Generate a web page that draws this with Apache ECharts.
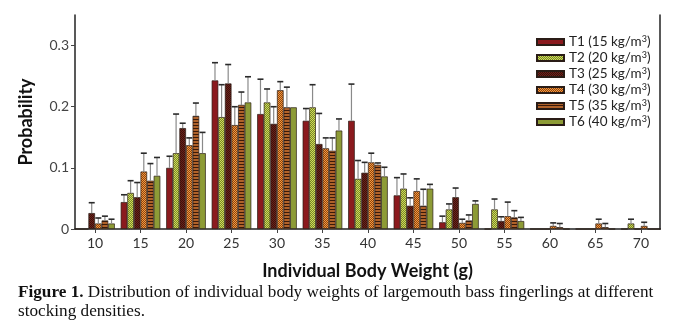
<!DOCTYPE html>
<html><head><meta charset="utf-8">
<script src="https://cdn.jsdelivr.net/npm/echarts@6/dist/echarts.min.js"></script>
<style>html,body{margin:0;padding:0;background:#fff}#c{width:675px;height:330px}</style>
</head><body><div id="c"></div>
<script>
// ---- data ----
const categories = [10, 15, 20, 25, 30, 35, 40, 45, 50, 55, 60, 65, 70];
const seriesNames = ['T1', 'T2', 'T3', 'T4', 'T5', 'T6'];
const densities = ['15', '20', '25', '30', '35', '40'];
const T1 = [0, 0.044, 0.100, 0.243, 0.188, 0.177, 0.177, 0.055, 0.011, 0, 0, 0, 0];
const T2 = [0, 0.059, 0.124, 0.183, 0.207, 0.199, 0.082, 0.066, 0.032, 0.032, 0, 0, 0.009];
const T3 = [0.026, 0.052, 0.165, 0.238, 0.172, 0.139, 0.092, 0.038, 0.052, 0.013, 0, 0, 0];
const T4 = [0.009, 0.094, 0.137, 0.170, 0.227, 0.132, 0.109, 0.062, 0.010, 0.021, 0.005, 0.009, 0.005];
const T5 = [0.014, 0.079, 0.185, 0.203, 0.199, 0.128, 0.105, 0.038, 0.014, 0.019, 0.003, 0.003, 0];
const T6 = [0.009, 0.087, 0.124, 0.207, 0.199, 0.161, 0.086, 0.066, 0.041, 0.013, 0, 0, 0];
const T1err = [0, 0.012, 0.019, 0.029, 0.057, 0.020, 0.060, 0.029, 0.010, 0, 0, 0, 0];
const T2err = [0, 0.020, 0.064, 0.053, 0.022, 0.037, 0.030, 0.024, 0.009, 0.017, 0, 0, 0.007];
const T3err = [0.017, 0.024, 0.008, 0.031, 0.028, 0.050, 0.017, 0.013, 0.015, 0.007, 0, 0, 0];
const T4err = [0.009, 0.030, 0.012, 0.030, 0.014, 0.017, 0.015, 0.020, 0.006, 0.023, 0.005, 0.007, 0.006];
const T5err = [0.007, 0.028, 0.021, 0.021, 0.033, 0.021, 0.003, 0.027, 0.009, 0.011, 0.006, 0.006, 0];
const T6err = [0.007, 0.030, 0.034, 0.042, 0, 0.019, 0.015, 0.007, 0.005, 0.006, 0, 0, 0];
const yTicks = [0, 0.1, 0.2, 0.3];

const values = [T1, T2, T3, T4, T5, T6];
const errors = [T1err, T2err, T3err, T4err, T5err, T6err];

// ---- patterns ----
function makePattern(w, h, pixels) {
  const c = document.createElement('canvas');
  c.width = w; c.height = h;
  const g = c.getContext('2d');
  for (let y = 0; y < h; y++) for (let x = 0; x < w; x++) {
    g.fillStyle = pixels[y][x];
    g.fillRect(x, y, 1, 1);
  }
  return { image: c, repeat: 'repeat' };
}
const a2 = '#d2dc55', b2 = '#76862c';
const a3 = '#3a120d', b3 = '#6e2119';
const a4 = '#f49a3c', b4 = '#8e4312';
const a5 = '#b0622a', b5 = '#3a1a0a';
const fills = [
  '#8b1a1e',
  makePattern(2, 2, [[a2, b2], [b2, a2]]),
  makePattern(2, 2, [[a3, b3], [b3, a3]]),
  makePattern(2, 2, [[a4, b4], [b4, a4]]),
  makePattern(1, 3, [[a5], [a5], [b5]]),
  '#8d9b36'
];

const BW = 6.6;
const series = [];
values.forEach((vals, i) => {
  series.push({
    name: seriesNames[i],
    type: 'bar',
    barWidth: BW,
    barGap: '0%',
    data: categories.map((c, k) => [c, vals[k]]),
    itemStyle: { color: fills[i], borderColor: '#2a1c16', borderWidth: 0.7 },
    emphasis: { disabled: true },
    z: 2
  });
});
values.forEach((vals, i) => {
  series.push({
    name: seriesNames[i] + ' err',
    type: 'custom',
    data: categories.map((c, k) => [c, vals[k], errors[i][k]]),
    z: 5,
    silent: true,
    renderItem: function (params, api) {
      const x = api.value(0), v = api.value(1), e = api.value(2);
      if (!(e > 0)) return null;
      const p0 = api.coord([x, v]);
      const p1 = api.coord([x, v + e]);
      const cx = p0[0] + (i - 2.5) * BW;
      return {
        type: 'group',
        children: [
          { type: 'line', shape: { x1: cx, y1: p0[1], x2: cx, y2: p1[1] },
            style: { stroke: '#8a8a8a', lineWidth: 1.2 } },
          { type: 'line', shape: { x1: cx - 3, y1: p1[1], x2: cx + 3, y2: p1[1] },
            style: { stroke: '#2a2a2a', lineWidth: 1.6 } }
        ]
      };
    }
  });
});

const chart = echarts.init(document.getElementById('c'), null, { renderer: 'canvas' });
chart.setOption({
  animation: false,
  backgroundColor: '#fff',
  grid: { left: 75, right: 15, top: 15, bottom: 101, containLabel: false },
  legend: {
    data: seriesNames,
    orient: 'vertical',
    left: 536, top: 35, padding: 0,
    itemWidth: 27, itemHeight: 6, itemGap: 2,
    icon: 'rect',
    selectedMode: false,
    formatter: function (name) {
      const i = seriesNames.indexOf(name);
      return name + ' (' + densities[i] + ' kg/m{sup|3})';
    },
    textStyle: {
      fontFamily: 'Lato', fontSize: 13.5, color: '#222', lineHeight: 14, padding: [0, 0, 0, 0],
      rich: { sup: { fontFamily: 'Lato', fontSize: 9, color: '#222', verticalAlign: 'top', padding: [0, 0, 6, 0] } }
    }
  },
  xAxis: {
    type: 'value', min: 7.8, max: 72.1,
    name: 'Individual Body Weight (g)', nameLocation: 'middle', nameGap: 33,
    nameTextStyle: { fontFamily: 'Lato', fontWeight: 'bold', fontSize: 18, color: '#111' },
    axisLine: { show: true, lineStyle: { color: '#222', width: 1.5 } },
    axisTick: { show: true, length: 4, customValues: categories, lineStyle: { color: '#444' } },
    axisLabel: { customValues: categories, fontFamily: 'Lato', fontSize: 14, color: '#333', margin: 7 },
    splitLine: { show: false }
  },
  yAxis: [{
    type: 'value', min: 0, max: 0.35,
    name: 'Probability', nameLocation: 'middle', nameGap: 40, nameRotate: 90,
    nameTextStyle: { fontFamily: 'Lato', fontWeight: 'bold', fontSize: 18, color: '#111' },
    axisLine: { show: true, lineStyle: { color: '#222', width: 1.5 } },
    axisTick: { show: true, length: 4, customValues: yTicks, lineStyle: { color: '#444' } },
    axisLabel: { customValues: yTicks, fontFamily: 'Lato', fontSize: 14, color: '#444', margin: 6 },
    splitLine: { show: false }
  }, {
    type: 'value', min: 0, max: 0.35, position: 'right',
    axisLine: { show: true, lineStyle: { color: '#222', width: 1.5 } },
    axisTick: { show: false }, axisLabel: { show: false }, splitLine: { show: false }
  }],
  graphic: [{
    type: 'text', left: 18, top: 284,
    style: {
      text: '{b|Figure 1.} Distribution of individual body weights of largemouth bass fingerlings at different',
      fontFamily: 'Liberation Serif', fontSize: 17.2, fill: '#111',
      rich: { b: { fontFamily: 'Liberation Serif', fontWeight: 'bold', fontSize: 17.2, fill: '#111' } }
    }
  }, {
    type: 'text', left: 18, top: 303,
    style: { text: 'stocking densities.', fontFamily: 'Liberation Serif', fontSize: 17.2, fill: '#111' }
  }],
  series: series
});
</script>
</body></html>
